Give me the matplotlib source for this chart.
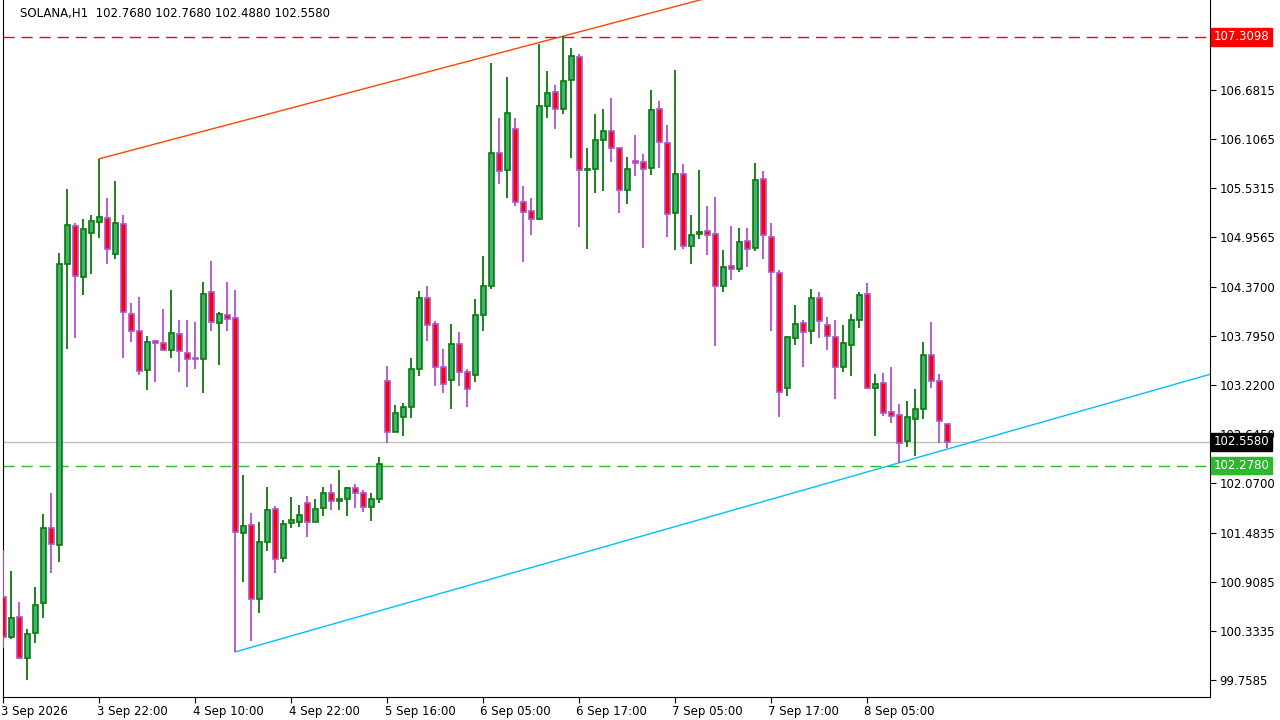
import matplotlib
matplotlib.use("Agg")
import matplotlib.pyplot as plt
from matplotlib.patches import Rectangle

opens = [100.73,100.27,100.50,100.02,100.31,100.66,101.54,101.35,104.65,105.09,
         104.49,105.01,105.14,105.19,104.76,105.11,104.06,103.86,103.40,103.74,
         103.72,103.64,103.82,103.60,103.54,103.53,104.31,103.95,104.04,104.01,
         101.49,101.58,100.71,101.38,101.77,101.19,101.60,101.62,101.84,101.62,
         101.78,101.96,101.86,101.89,102.01,101.95,101.79,101.89,103.27,102.67,
         102.85,102.96,103.41,104.25,103.94,103.43,103.28,103.71,103.38,103.34,
         104.05,104.39,105.95,105.75,106.23,105.37,105.27,105.17,106.50,106.66,
         106.46,106.81,107.08,105.75,105.76,106.10,106.21,106.01,105.51,105.85,
         105.84,105.77,106.46,106.07,105.24,105.70,104.86,105.00,105.03,105.00,
         104.39,104.62,104.59,104.92,104.83,105.64,104.96,104.54,103.19,103.78,
         103.95,103.86,104.25,103.93,103.79,103.44,103.69,103.99,104.29,103.19,
         103.25,102.91,102.87,102.57,102.83,102.94,103.57,103.27,102.768]
highs = [101.29,101.04,100.68,100.36,100.85,101.71,101.96,104.77,105.53,105.12,
         105.17,105.22,105.88,105.42,105.62,105.22,104.19,104.26,103.80,103.75,
         104.11,104.34,103.99,103.99,103.96,104.43,104.68,104.08,104.43,104.34,
         102.17,101.72,101.62,102.02,101.80,101.64,101.91,101.82,101.92,101.89,
         102.03,102.06,102.23,102.02,102.06,101.99,101.95,102.38,103.45,102.99,
         103.01,103.54,104.33,104.38,103.98,103.65,103.94,103.85,103.41,104.23,
         104.74,107.00,106.36,106.84,106.36,105.56,105.42,107.23,106.91,106.75,
         107.32,107.18,107.11,106.01,106.41,106.46,106.59,106.01,105.90,106.16,
         105.94,106.69,106.56,106.28,106.92,105.82,105.22,105.75,105.33,105.43,
         104.81,105.09,105.07,105.07,105.83,105.74,105.13,104.57,103.80,104.16,
         103.99,104.35,104.32,104.02,103.99,103.93,104.06,104.32,104.42,103.35,
         103.37,103.43,103.00,103.04,103.18,103.73,103.96,103.35,102.768]
lows = [100.14,100.24,100.01,99.76,100.19,100.49,101.02,101.15,103.65,103.77,
        104.28,104.53,104.95,104.65,104.70,103.54,103.73,103.34,103.17,103.26,
        103.62,103.54,103.38,103.20,103.41,103.13,103.86,103.46,103.86,100.09,
        100.91,100.22,100.55,101.28,101.02,101.15,101.54,101.56,101.44,101.62,
        101.69,101.75,101.76,101.69,101.78,101.73,101.63,101.84,102.54,102.67,
        102.62,102.84,103.33,103.74,103.21,103.13,102.94,103.21,102.97,103.26,
        103.86,104.35,105.58,105.42,105.33,104.67,104.99,105.16,106.36,106.23,
        106.41,105.89,105.08,104.82,105.48,105.50,105.84,105.24,105.35,105.68,
        104.83,105.69,105.77,104.96,104.81,104.82,104.65,104.94,104.75,103.68,
        104.32,104.46,104.55,104.61,104.80,104.70,103.86,102.85,103.10,103.69,
        103.44,103.71,103.77,103.64,103.06,103.38,103.33,103.89,103.18,102.63,
        102.86,102.78,102.31,102.49,102.39,102.83,103.19,102.54,102.488]
closes = [100.26,100.49,100.02,100.30,100.64,101.55,101.36,104.65,105.10,104.50,
          105.05,105.15,105.20,104.82,105.13,104.08,103.86,103.39,103.73,103.72,
          103.63,103.83,103.62,103.53,103.53,104.29,103.96,104.06,104.00,101.50,
          101.57,100.71,101.38,101.76,101.18,101.59,101.64,101.70,101.62,101.77,
          101.96,101.86,101.88,102.01,101.95,101.79,101.89,102.30,102.67,102.89,
          102.97,103.41,104.25,103.93,103.43,103.24,103.71,103.38,103.18,104.05,
          104.39,105.95,105.74,106.42,105.37,105.26,105.17,106.50,106.65,106.46,
          106.79,107.09,105.75,105.76,106.10,106.21,106.01,105.51,105.76,105.83,
          105.76,106.45,106.08,105.23,105.70,104.85,104.99,105.02,104.99,104.38,
          104.61,104.58,104.90,104.82,105.63,104.99,104.55,103.14,103.79,103.94,
          103.84,104.25,103.98,103.80,103.43,103.72,103.99,104.28,103.19,103.23,
          102.90,102.86,102.54,102.85,102.94,103.58,103.27,102.80,102.558]

tick_idx = [0, 12, 24, 36, 48, 60, 72, 84, 96, 108]
tick_labels = ["3 Sep 2026", "3 Sep 22:00", "4 Sep 10:00", "4 Sep 22:00", "5 Sep 16:00",
               "6 Sep 05:00", "6 Sep 17:00", "7 Sep 05:00", "7 Sep 17:00", "8 Sep 05:00"]
price_ticks = [106.6815, 106.1065, 105.5315, 104.9565, 104.3700, 103.7950, 103.2200,
               102.6450, 102.0700, 101.4835, 100.9085, 100.3335, 99.7585]
resistance = 107.3098
support = 102.2780
last_price = 102.5580
# trendline anchor candles
up_a, up_b = 12, 70
dn_a, dn_b = 29, 112

fig = plt.figure(figsize=(12.8, 7.2), dpi=100)
ax = fig.add_axes([3/1280, 23/720, 1207/1280, 697/720])
ymin, ymax = 99.56, 107.744
xmin, xmax = -0.04, 150.85
ax.set_xlim(xmin, xmax)
ax.set_ylim(ymin, ymax)

bull_face, bull_edge = "#3CB371", "#0A7A0A"
bear_face, bear_edge = "#FF0000", "#B050D0"
w = 0.62
for i, (o, h, l, c) in enumerate(zip(opens, highs, lows, closes)):
    up = c >= o
    ec = bull_edge if up else bear_edge
    fc = bull_face if up else bear_face
    ax.vlines(i, l, h, color=ec, lw=1.3, zorder=3)
    lo, hi = min(o, c), max(o, c)
    ax.add_patch(Rectangle((i - w/2, lo), w, max(hi - lo, 0.012), facecolor=fc,
                           edgecolor=ec, lw=1.2, zorder=4))

# trendlines
def ray(a, b, pa, pb, color):
    slope = (pb - pa) / (b - a)
    ax.plot([a, xmax], [pa, pa + slope * (xmax - a)], color=color, lw=1, zorder=2)
ray(up_a, up_b, highs[up_a], highs[up_b], "#FF4500")
ray(dn_a, dn_b, lows[dn_a], lows[dn_b], "#00BFFF")

ax.axhline(resistance, color="#FF0000", lw=1, ls=(0, (8, 5)), zorder=2)
ax.axhline(support, color="#2EB82E", lw=1, ls=(0, (8, 5)), zorder=2)
ax.axhline(last_price, color="#C0C0C0", lw=1, zorder=1)

ax.yaxis.tick_right()
ax.set_yticks(price_ticks)
ax.set_yticklabels([f"{t:.4f}" for t in price_ticks], fontsize=8.5)
ax.set_xticks(tick_idx)
ax.set_xticklabels(tick_labels, fontsize=8.5, ha="left")
ax.tick_params(axis="x", length=4, pad=2)
ax.tick_params(axis="y", length=4, pad=3)
for lbl in ax.get_xticklabels():
    lbl.set_x(0)
import matplotlib.transforms as mtrans
offset = mtrans.ScaledTranslation(-2/72, 0, fig.dpi_scale_trans)
for lbl in ax.get_xticklabels():
    lbl.set_transform(lbl.get_transform() + offset)
for s in ["top"]:
    ax.spines[s].set_visible(False)
for s in ["left", "bottom", "right"]:
    ax.spines[s].set_color("black")

def price_tag(p, fc, tc):
    ax.text(1.003, p, f"{p:.4f}", transform=ax.get_yaxis_transform(), fontsize=8.5,
            color=tc, va="center", ha="left", zorder=10, clip_on=False,
            bbox=dict(boxstyle="square,pad=0.2", fc=fc, ec=fc))
price_tag(resistance, "#FF0000", "white")
price_tag(support, "#2EB82E", "white")
price_tag(last_price, "black", "white")

fig.text(20/1280, 1 - 13/720,
         f"SOLANA,H1  {opens[-1]:.4f} {highs[-1]:.4f} {lows[-1]:.4f} {closes[-1]:.4f}",
         fontsize=8.5, va="center", ha="left")

fig.savefig("out.png", dpi=100)
